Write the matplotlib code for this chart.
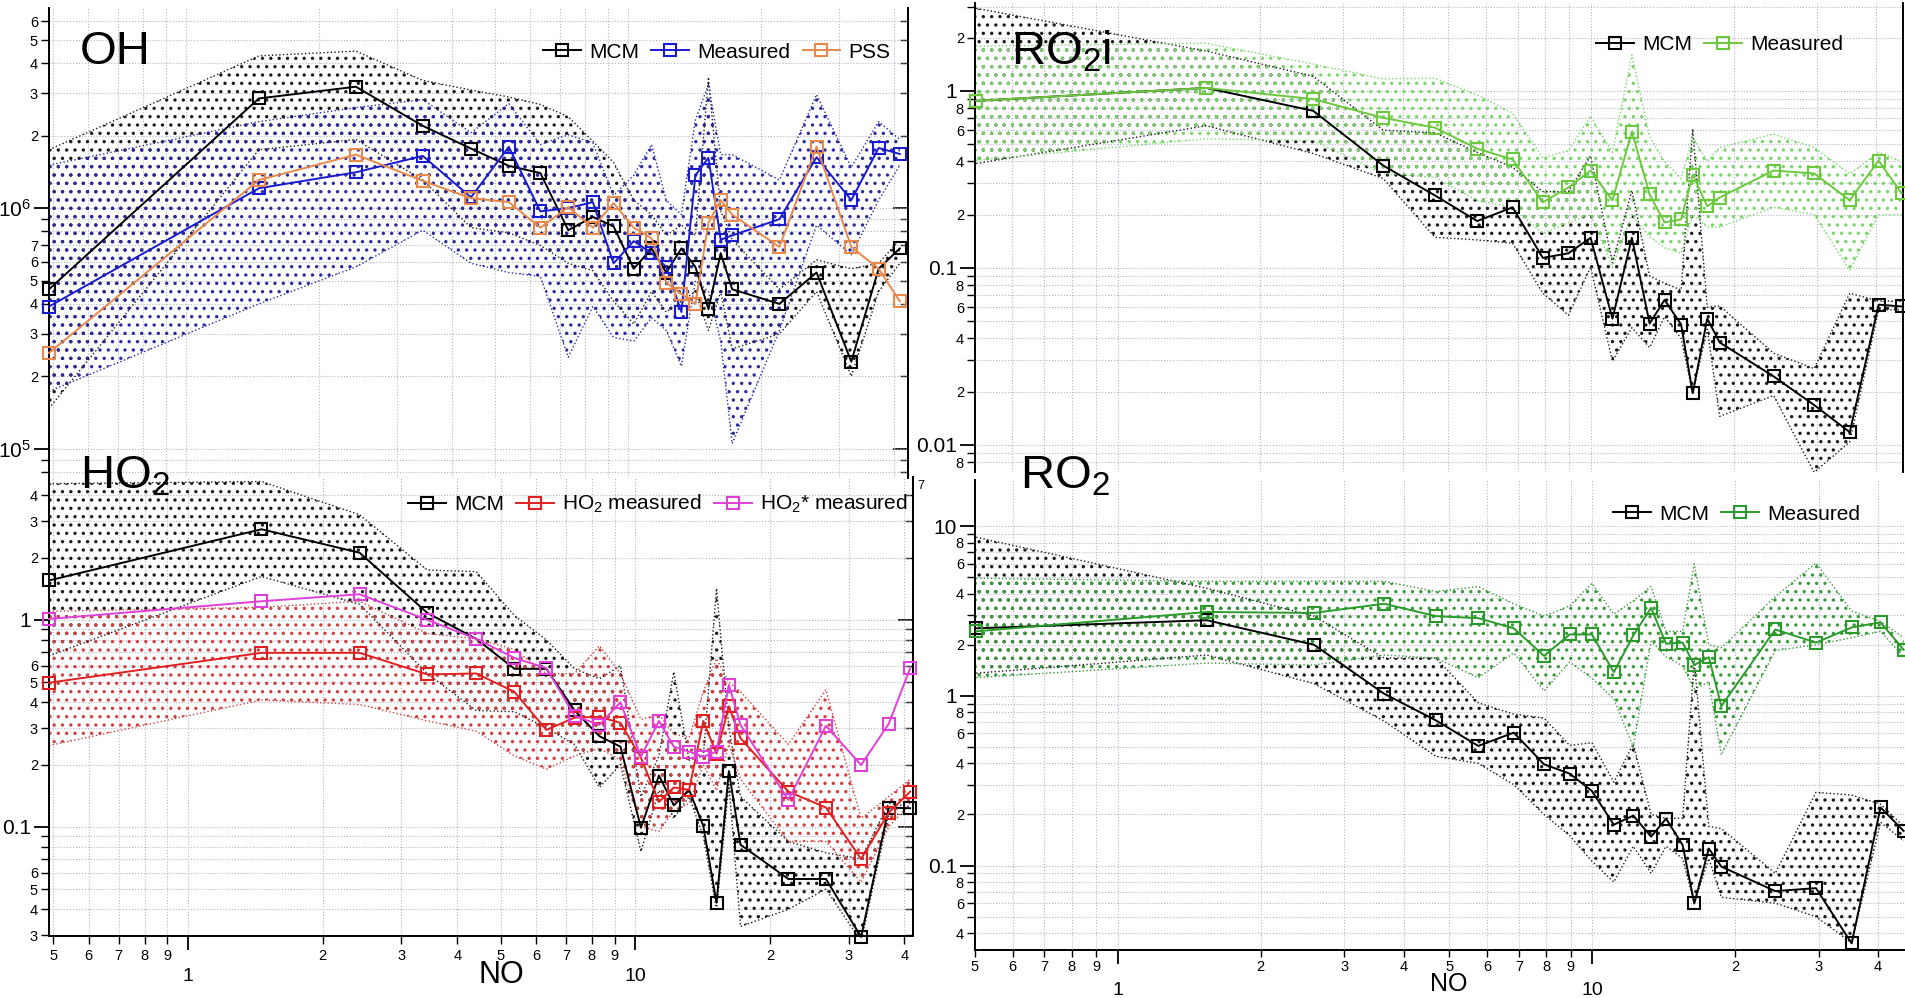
import numpy as np
import matplotlib.pyplot as plt
from matplotlib.ticker import LogLocator, FuncFormatter

plt.rcParams['font.family'] = ['Liberation Sans', 'DejaVu Sans']
plt.rcParams['mathtext.fontset'] = 'custom'
plt.rcParams['mathtext.rm'] = 'Liberation Sans'
plt.rcParams['mathtext.it'] = 'Liberation Sans:italic'
plt.rcParams['mathtext.bf'] = 'Liberation Sans:bold'
plt.rcParams['hatch.linewidth'] = 1.2

W, H = 1905, 998

# NO bins (left and right columns were binned slightly differently)
no_left = [0.489, 1.46, 2.42, 3.43, 4.41, 5.37, 6.33, 7.32, 8.32, 9.27, 10.3, 11.3,
           12.2, 13.2, 14.2, 15.2, 16.2, 17.2, 22.0, 26.7, 32.0, 36.9, 41.2]
no_right = [0.503, 1.54, 2.59, 3.64, 4.68, 5.75, 6.83, 7.91, 8.96, 9.98, 11.1, 12.2,
            13.3, 14.3, 15.5, 16.4, 17.6, 18.7, 24.3, 29.6, 35.2, 40.5, 45.3]

# OH
oh_mcm = [4.6e5, 2.86e6, 3.2e6, 2.2e6, 1.77e6, 1.5e6, 1.4e6, 8.1e5, 9.2e5, 8.4e5, 5.6e5, 6.8e5,
          5.4e5, 6.8e5, 5.7e5, 3.8e5, 6.5e5, 4.6e5, 4.0e5, 5.4e5, 2.3e5, 5.6e5, 6.8e5]
oh_mcm_hi = [1.75e6, 4.3e6, 4.5e6, 3.4e6, 3.1e6, 2.9e6, 2.7e6, 2.4e6, 1.9e6, 1.55e6, 1.08e6, 9.4e5,
             7.7e5, 8.5e5, 7.7e5, 3.5e6, 9.8e5, 7.4e5, 4.6e5, 6.1e5, 5.6e5, 5.9e5, 7.4e5]
oh_mcm_lo = [1.47e5, 1.75e6, 1.93e6, 1.31e6, 8.3e5, 7.9e5, 7.0e5, 5.9e5, 5.5e5, 4.1e5, 3.3e5, 4.5e5,
             3.7e5, 4.1e5, 4.5e5, 3.1e5, 4.5e5, 2.6e5, 3.0e5, 4.5e5, 2.0e5, 4.5e5, 5.9e5]
oh_meas = [3.9e5, 1.21e6, 1.41e6, 1.65e6, 1.11e6, 1.8e6, 9.7e5, 1.0e6, 1.06e6, 5.9e5, 7.3e5, 6.5e5,
           5.7e5, 3.7e5, 1.37e6, 1.62e6, 7.4e5, 7.7e5, 9.0e5, 1.63e6, 1.08e6, 1.78e6, 1.68e6]
oh_meas_hi = [1.51e6, 2.29e6, 2.62e6, 2.83e6, 2.06e6, 2.72e6, 1.84e6, 2.02e6, 1.87e6, 1.13e6, 1.37e6, 1.84e6,
              1.08e6, 9.4e5, 2.33e6, 3.27e6, 1.67e6, 1.67e6, 1.31e6, 2.97e6, 1.48e6, 2.29e6, 1.93e6]
oh_meas_lo = [1.73e5, 4.0e5, 5.7e5, 8.1e5, 5.9e5, 5.4e5, 5.2e5, 2.4e5, 3.9e5, 2.9e5, 2.8e5, 3.5e5,
              3.1e5, 2.2e5, 5.0e5, 4.5e5, 2.8e5, 1.05e5, 3.1e5, 8.5e5, 6.4e5, 1.08e6, 1.51e6]
oh_pss = [2.5e5, 1.31e6, 1.67e6, 1.30e6, 1.10e6, 1.06e6, 8.3e5, 1.01e6, 8.3e5, 1.05e6, 8.3e5, 7.5e5,
          4.9e5, 4.4e5, 4.0e5, 8.7e5, 1.08e6, 9.4e5, 6.9e5, 1.8e6, 6.9e5, 5.6e5, 4.1e5]

# HO2
ho2_mcm = [1.55, 2.74, 2.11, 1.08, 0.81, 0.58, 0.58, 0.365, 0.274, 0.244, 0.099, 0.177,
           0.127, 0.151, 0.101, 0.043, 0.186, 0.082, 0.056, 0.056, 0.0294, 0.124, 0.123]
ho2_mcm_hi = [4.55, 4.66, 3.22, 1.74, 1.71, 1.05, 0.80, 0.58, 0.52, 0.60, 0.14, 0.22,
              0.56, 0.21, 0.22, 1.42, 0.30, 0.14, 0.085, 0.075, 0.07, 0.13, 0.125]
ho2_mcm_lo = [0.67, 1.62, 1.19, 0.55, 0.365, 0.36, 0.30, 0.25, 0.155, 0.20, 0.076, 0.15,
              0.11, 0.14, 0.09, 0.04, 0.16, 0.033, 0.04, 0.05, 0.028, 0.115, 0.115]
ho2_meas = [0.497, 0.693, 0.693, 0.545, 0.551, 0.449, 0.294, 0.337, 0.34, 0.318, 0.216, 0.132,
            0.155, 0.151, 0.325, 0.226, 0.382, 0.268, 0.148, 0.124, 0.070, 0.117, 0.148]
ho2_meas_hi = [1.1, 1.15, 1.23, 0.86, 0.81, 0.72, 0.55, 0.55, 0.75, 0.55, 0.33, 0.35,
               0.28, 0.27, 0.45, 0.65, 0.50, 0.45, 0.25, 0.46, 0.11, 0.14, 0.17]
ho2_meas_lo = [0.247, 0.41, 0.39, 0.325, 0.29, 0.22, 0.19, 0.22, 0.24, 0.21, 0.10, 0.095,
               0.12, 0.13, 0.20, 0.15, 0.25, 0.17, 0.085, 0.085, 0.054, 0.10, 0.13]
ho2_star = [1.01, 1.23, 1.33, 1.0, 0.81, 0.655, 0.584, 0.344, 0.311, 0.40, 0.218, 0.325,
            0.244, 0.231, 0.218, 0.231, 0.486, 0.311, 0.135, 0.308, 0.199, 0.315, 0.584]

# RO2i
ro2i_mcm = [0.879, 1.04, 0.772, 0.379, 0.257, 0.184, 0.220, 0.114, 0.121, 0.148, 0.0517, 0.148,
            0.0485, 0.066, 0.0479, 0.0196, 0.0517, 0.0379, 0.0244, 0.0168, 0.0118, 0.062, 0.0606]
ro2i_mcm_hi = [2.93, 1.68, 1.21, 0.60, 0.58, 0.45, 0.37, 0.27, 0.27, 0.43, 0.107, 0.274,
               0.09, 0.082, 0.075, 0.61, 0.06, 0.061, 0.033, 0.027, 0.072, 0.065, 0.065]
ro2i_mcm_lo = [0.389, 0.636, 0.443, 0.32, 0.149, 0.144, 0.138, 0.072, 0.054, 0.101, 0.0297, 0.046,
               0.0355, 0.053, 0.04, 0.0196, 0.045, 0.0145, 0.019, 0.007, 0.0104, 0.058, 0.058]
ro2i_meas = [0.879, 1.04, 0.90, 0.705, 0.62, 0.472, 0.41, 0.235, 0.285, 0.355, 0.241, 0.589,
             0.26, 0.181, 0.188, 0.337, 0.223, 0.25, 0.355, 0.342, 0.241, 0.404, 0.264]
ro2i_meas_hi = [1.79, 1.86, 1.42, 1.17, 1.18, 0.95, 0.75, 0.42, 0.46, 0.72, 0.45, 1.6,
                0.55, 0.40, 0.32, 0.55, 0.40, 0.48, 0.57, 0.48, 0.34, 0.45, 0.40]
ro2i_meas_lo = [0.405, 0.537, 0.524, 0.342, 0.325, 0.24, 0.22, 0.157, 0.18, 0.2, 0.101, 0.2,
                0.15, 0.13, 0.121, 0.2, 0.17, 0.17, 0.22, 0.2, 0.097, 0.2, 0.2]

# RO2
ro2_mcm = [2.5, 2.79, 2.0, 1.03, 0.717, 0.507, 0.607, 0.395, 0.348, 0.275, 0.174, 0.197,
           0.148, 0.189, 0.132, 0.0598, 0.126, 0.0986, 0.0707, 0.0736, 0.0348, 0.22, 0.16]
ro2_mcm_hi = [8.6, 4.3, 2.95, 1.67, 1.67, 0.91, 0.78, 0.74, 0.51, 0.53, 0.31, 0.52,
              0.20, 0.19, 0.19, 1.6, 0.17, 0.165, 0.09, 0.27, 0.26, 0.23, 0.17]
ro2_mcm_lo = [1.36, 1.74, 1.18, 0.71, 0.44, 0.40, 0.30, 0.20, 0.15, 0.106, 0.08, 0.13,
              0.09, 0.13, 0.11, 0.06, 0.11, 0.065, 0.06, 0.05, 0.035, 0.18, 0.14]
ro2_meas = [2.40, 3.12, 3.08, 3.49, 2.95, 2.87, 2.5, 1.72, 2.30, 2.30, 1.38, 2.27,
            3.30, 2.03, 2.06, 1.52, 1.69, 0.87, 2.46, 2.06, 2.53, 2.71, 1.87]
ro2_meas_hi = [4.93, 4.73, 4.73, 4.73, 4.12, 4.41, 3.49, 2.95, 3.39, 4.6, 3.03, 3.63,
               4.41, 2.4, 2.4, 6.0, 2.0, 1.92, 3.84, 6.07, 3.16, 2.75, 2.2]
ro2_meas_lo = [1.28, 1.56, 1.52, 1.74, 1.67, 1.28, 1.79, 1.07, 1.58, 1.27, 0.96, 0.50,
               2.1, 1.7, 1.5, 1.1, 1.2, 0.45, 1.85, 2.0, 2.2, 2.4, 1.7]

GRID = '#b4b4cc'


def add_ax(x0, x1, y0, y1):
    # box given in pixels of the 1905x998 image
    return fig.add_axes([x0 / W, 1 - y1 / H, (x1 - x0) / W, (y1 - y0) / H])


def band(ax, x, lo, hi, color):
    ax.fill_between(x, lo, hi, facecolor='none', edgecolor=color, hatch='..', linewidth=0, zorder=1)
    ax.plot(x, lo, ls=':', color=color, lw=1.0, zorder=2)
    ax.plot(x, hi, ls=':', color=color, lw=1.0, zorder=2)


def series(ax, x, y, color, label):
    ax.plot(x, y, '-s', color=color, mfc='none', mec=color, ms=9, mew=1.5, lw=1.4,
            label=label, zorder=4, clip_on=False)


def digit_fmt(allowed):
    def f(v, pos):
        e = np.floor(np.log10(v) + 1e-9)
        d = int(round(v / 10 ** e))
        return str(d) if d in allowed else ''
    return FuncFormatter(f)


plain = FuncFormatter(lambda v, p: '%g' % v)
power = FuncFormatter(lambda v, p: r'$\mathregular{10^{%d}}$' % round(np.log10(v)))


def style(ax, xlim, ylim, ymaj, ymin_digits, bottom, right_ticks=False, right_spine=True):
    ax.set_xscale('log')
    ax.set_yscale('log')
    ax.set_xlim(*xlim)
    ax.set_ylim(*ylim)
    ax.set_facecolor('none')
    for a in (ax.xaxis, ax.yaxis):
        a.set_major_locator(LogLocator(base=10, numticks=50))
        a.set_minor_locator(LogLocator(base=10, subs=np.arange(2, 10) * 1.0, numticks=50))
    ax.yaxis.set_major_formatter(ymaj)
    ax.yaxis.set_minor_formatter(digit_fmt(ymin_digits))
    ax.grid(True, which='both', ls=':', color=GRID, lw=0.8)
    ax.set_axisbelow(True)
    ax.tick_params(axis='y', which='major', length=11, width=1.3, labelsize=15, pad=2)
    ax.tick_params(axis='y', which='minor', length=6, width=1.0, labelsize=10.5, pad=2)
    ax.spines['top'].set_visible(False)
    ax.spines['right'].set_visible(right_spine)
    for s in ax.spines.values():
        s.set_linewidth(1.4)
    if bottom:
        ax.xaxis.set_major_formatter(plain)
        ax.xaxis.set_minor_formatter(digit_fmt(range(2, 10)))
        ax.tick_params(axis='x', which='major', length=10, width=1.3, labelsize=14, pad=13)
        ax.tick_params(axis='x', which='minor', length=6, width=1.0, labelsize=10.5, pad=3)
    else:
        ax.spines['bottom'].set_visible(False)
        ax.tick_params(axis='x', which='both', bottom=False, labelbottom=False)
    if right_ticks:
        sec = ax.secondary_yaxis('right')
        sec.yaxis.set_major_locator(LogLocator(base=10, numticks=50))
        sec.yaxis.set_minor_locator(LogLocator(base=10, subs=np.arange(2, 10) * 1.0, numticks=50))
        sec.tick_params(which='both', direction='in', labelright=False)
        sec.tick_params(which='major', length=11, width=1.2)
        sec.tick_params(which='minor', length=6, width=1.0)
        sec.spines['right'].set_linewidth(1.4)


def legend(ax, x, y, ncol):
    ax.legend(loc='center left', bbox_to_anchor=(x / W, 1 - y / H), bbox_transform=fig.transFigure,
              ncol=ncol, frameon=False, fontsize=15, handlelength=1.8, handletextpad=0.4,
              columnspacing=0.6, borderpad=0, borderaxespad=0)


fig = plt.figure(figsize=(W / 100, H / 100), dpi=100)

# OH
ax = add_ax(49, 908, 8, 478)
band(ax, no_left, oh_mcm_lo, oh_mcm_hi, '#1a1a1a')
band(ax, no_left, oh_meas_lo, oh_meas_hi, '#2a2aa0')
series(ax, no_left, oh_mcm, 'black', 'MCM')
series(ax, no_left, oh_meas, '#1a1ad0', 'Measured')
series(ax, no_left, oh_pss, '#e8884a', 'PSS')
style(ax, (0.489, 43.0), (7.55e4, 6.8e6), power, range(2, 8), bottom=False, right_ticks=True)
legend(ax, 543, 52, 3)

# RO2i
ax = add_ax(975, 1903, 3, 472)
band(ax, no_right, ro2i_mcm_lo, ro2i_mcm_hi, '#1a1a1a')
band(ax, no_right, ro2i_meas_lo, ro2i_meas_hi, '#7ad66a')
series(ax, no_right, ro2i_mcm, 'black', 'MCM')
series(ax, no_right, ro2i_meas, '#6cc83c', 'Measured')
style(ax, (0.5, 45.6), (0.00703, 3.14), plain, (2, 4, 6, 8), bottom=False)
legend(ax, 1596, 45, 2)

# HO2
ax = add_ax(49, 913, 477, 936)
band(ax, no_left, ho2_mcm_lo, ho2_mcm_hi, '#1a1a1a')
band(ax, no_left, ho2_meas_lo, ho2_meas_hi, '#d04040')
series(ax, no_left, ho2_mcm, 'black', 'MCM')
series(ax, no_left, ho2_meas, '#e02020', r'HO$_\mathregular{2}$ measured')
series(ax, no_left, ho2_star, '#e040d8', r'HO$_\mathregular{2}$* measured')
style(ax, (0.489, 41.8), (0.0297, 4.9), plain, range(2, 7), bottom=True, right_ticks=True)
legend(ax, 408, 504, 3)

# RO2
ax = add_ax(975, 1905, 480, 950)
band(ax, no_right, ro2_mcm_lo, ro2_mcm_hi, '#1a1a1a')
band(ax, no_right, ro2_meas_lo, ro2_meas_hi, '#3a9a3a')
series(ax, no_right, ro2_mcm, 'black', 'MCM')
series(ax, no_right, ro2_meas, '#2a9a2a', 'Measured')
style(ax, (0.5, 45.6), (0.0318, 18.7), plain, (2, 4, 6, 8), bottom=True, right_spine=False)
ax.tick_params(axis='x', which='minor', length=5, pad=2)
legend(ax, 1613, 514, 2)

# panel names and axis titles
fig.text(80 / W, 1 - 64 / H, 'OH', fontsize=34, va='baseline')
fig.text(80 / W, 1 - 489 / H, r'HO$_\mathregular{2}$', fontsize=34, va='baseline')
fig.text(1011 / W, 1 - 64 / H, r'RO$_\mathregular{2}$i', fontsize=34, va='baseline')
fig.text(1020 / W, 1 - 489 / H, r'RO$_\mathregular{2}$', fontsize=34, va='baseline')
fig.text(501 / W, 1 - 975 / H, 'NO', fontsize=22, ha='center', va='center')
fig.text(1449 / W, 1 - 996 / H, 'NO', fontsize=18, ha='center', va='bottom')
fig.text(917 / W, 1 - 486 / H, '7', fontsize=9, va='center')

fig.savefig('out.png', dpi=100)
